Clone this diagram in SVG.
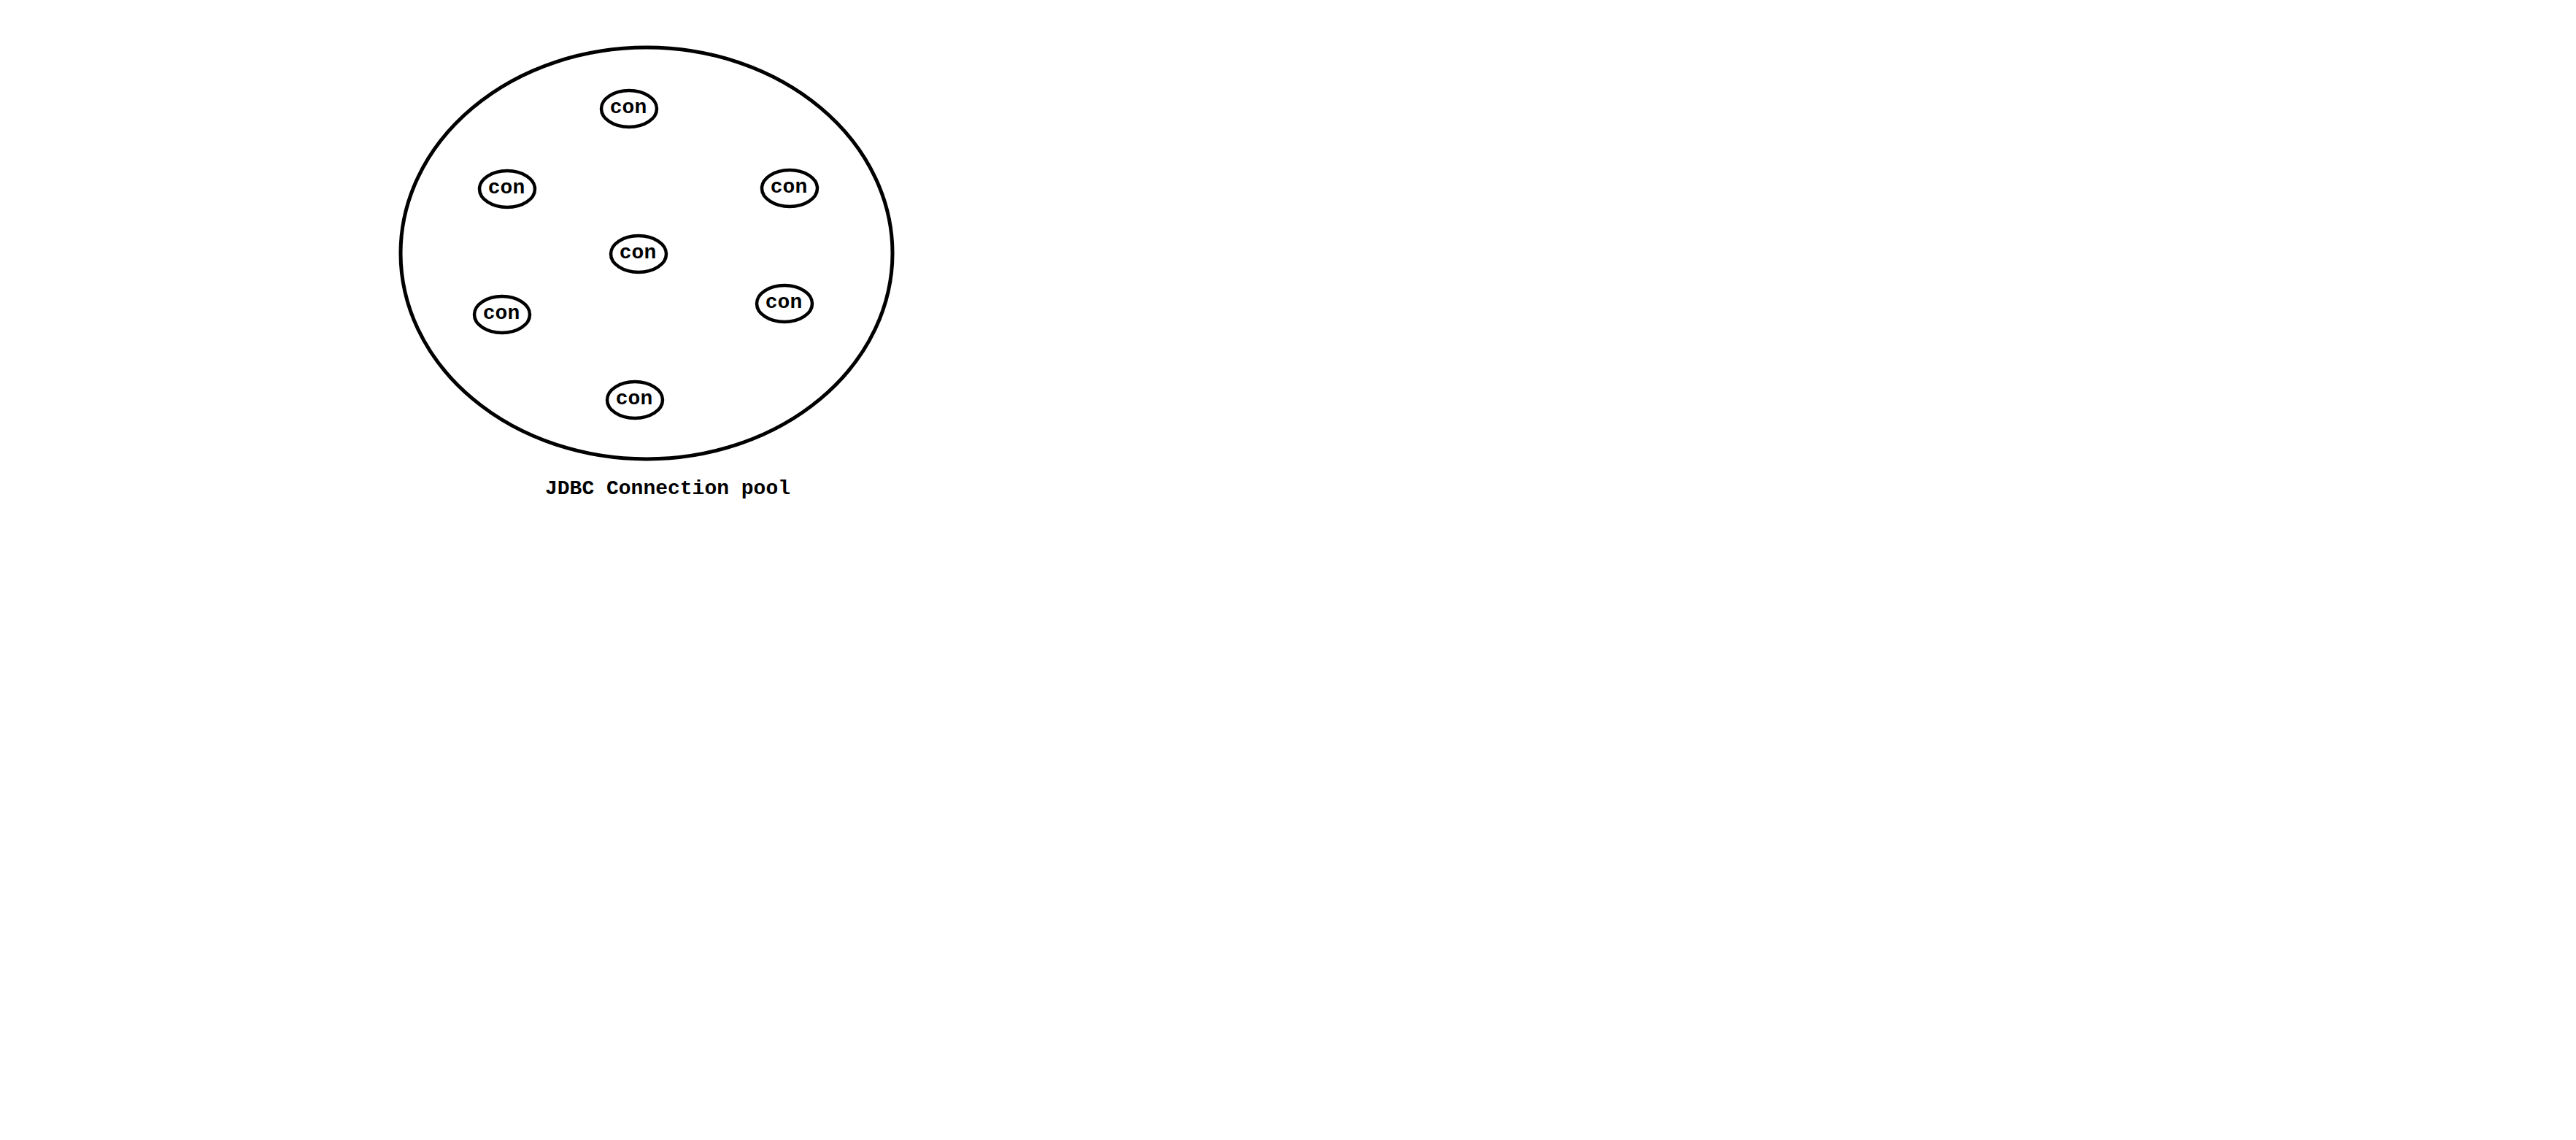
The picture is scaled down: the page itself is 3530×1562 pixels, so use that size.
<svg xmlns="http://www.w3.org/2000/svg" width="3530" height="1562" viewBox="0 0 3530 1562">
<style>
.pool{fill:none;stroke:#000;stroke-width:5}
.con{fill:#fff;stroke:#000;stroke-width:4.5}
.t{font-family:"Liberation Mono","Courier New",monospace;font-weight:bold;font-size:28px;fill:#000;text-anchor:middle}
</style>
<rect width="3530" height="1562" fill="#fff"/>
<g id="pool">
<ellipse class="pool" cx="886" cy="347" rx="337" ry="282"/>
<text class="t" x="915" y="677">JDBC Connection pool</text>
</g>
<g id="con1"><ellipse class="con" cx="862" cy="149" rx="38" ry="25"/><text class="t" x="861" y="155">con</text></g>
<g id="con2"><ellipse class="con" cx="695" cy="259" rx="38" ry="25"/><text class="t" x="694" y="265">con</text></g>
<g id="con3"><ellipse class="con" cx="1082" cy="258" rx="38" ry="25"/><text class="t" x="1081" y="264">con</text></g>
<g id="con4"><ellipse class="con" cx="875" cy="348" rx="38" ry="25"/><text class="t" x="874" y="354">con</text></g>
<g id="con5"><ellipse class="con" cx="688" cy="431" rx="38" ry="25"/><text class="t" x="687" y="437">con</text></g>
<g id="con6"><ellipse class="con" cx="1075" cy="416" rx="38" ry="25"/><text class="t" x="1074" y="422">con</text></g>
<g id="con7"><ellipse class="con" cx="870" cy="548" rx="38" ry="25"/><text class="t" x="869" y="554">con</text></g>
<g id="connectors"></g>
</svg>
